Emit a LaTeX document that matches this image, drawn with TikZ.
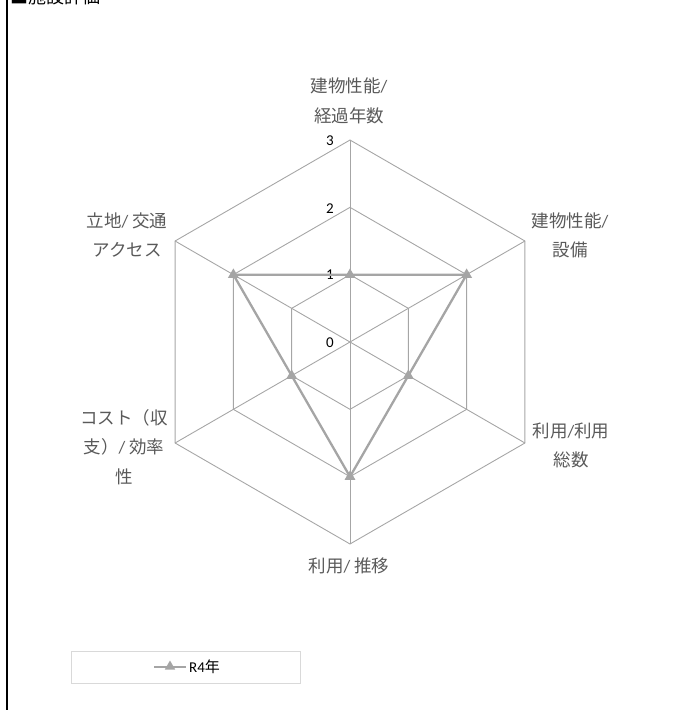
\documentclass[tikz,border=0pt]{standalone}
\usepackage{fontspec}
\setmainfont{Carlito}
\newfontfamily\jp{Noto Sans CJK JP}
\usetikzlibrary{shapes.geometric}
\definecolor{gridc}{HTML}{A6A6A6}
\definecolor{datac}{HTML}{A5A5A5}
\definecolor{labc}{HTML}{595959}
\definecolor{legc}{HTML}{D9D9D9}
\tikzset{
  gridline/.style={draw=gridc, line width=0.9pt},
  dataline/.style={draw=datac, line width=2.3pt, line join=round},
  marker/.style={regular polygon, regular polygon sides=3, fill=datac, draw=none, minimum size=12.5pt, inner sep=0pt},
  axislabel/.style={text=labc, align=center, inner sep=0pt, font=\fontsize{17.5}{29.5}\selectfont},
  ticklabel/.style={text=black, anchor=east, inner sep=0pt, font=\fontsize{15}{17}\selectfont},
  legendbox/.style={draw=legc, line width=1pt},
}
\begin{document}
\begin{tikzpicture}[x=1pt, y=-1pt]
\useasboundingbox (0,0) rectangle (679,710);
% frame line and header
\draw[line width=2.3pt, black] (7.2,0) -- (7.2,710);
\node[anchor=base west, inner sep=0pt, text=black, font=\fontsize{18}{20}\selectfont\jp] (title) at (10,3) {■施設評価};
% radar grid
\begin{scope}[shift={(350,342)}]
\coordinate (O) at (0,0);
\foreach \k in {0,...,5}{
  \foreach \r in {1,2,3}{
    \coordinate (g\r-\k) at ({-90+60*\k}:{67.33*\r});
  }
}
\end{scope}
\foreach \r in {1,2,3}{
  \draw[gridline] (g\r-0) -- (g\r-1) -- (g\r-2) -- (g\r-3) -- (g\r-4) -- (g\r-5) -- cycle;
}
\foreach \k in {0,...,5}{
  \draw[gridline] (O) -- (g3-\k);
}
% tick labels
\node[ticklabel] (t0) at (334,343) {0};
\node[ticklabel] (t1) at (334,275) {1};
\node[ticklabel] (t2) at (334,209) {2};
\node[ticklabel] (t3) at (334,141) {3};
% data series
\draw[dataline] (g1-0) -- (g2-1) -- (g1-2) -- (g2-3) -- (g1-4) -- (g2-5) -- cycle;
\node[marker] (m0) at (g1-0) {};
\node[marker] (m1) at (g2-1) {};
\node[marker] (m2) at (g1-2) {};
\node[marker] (m3) at (g2-3) {};
\node[marker] (m4) at (g1-4) {};
\node[marker] (m5) at (g2-5) {};
% axis labels
\node[axislabel] (a0) at (349,101) {{\jp 建物性能}/\\{\jp 経過年数}};
\node[axislabel] (a1) at (570,235.5) {{\jp 建物性能}/\\{\jp 設備}};
\node[axislabel] (a2) at (571,445.5) {{\jp 利用}/{\jp 利用}\\{\jp 総数}};
\node[axislabel] (a3) at (349,566) {{\jp 利用}/ {\jp 推移}};
\node[axislabel] (a4) at (124,447) {{\jp コスト（収}\\{\jp 支）}/ {\jp 効率}\\{\jp 性}};
\node[axislabel] (a5) at (127,235) {{\jp 立地}/ {\jp 交通}\\{\jp アクセス}};
% legend
\node[legendbox, minimum width=229pt, minimum height=32pt, inner sep=0pt] (leg) at (185.5,667) {};
\coordinate (ls) at (154,667);
\coordinate (le) at (186,667);
\draw[dataline, line width=2pt] (ls) -- (le);
\node[marker, minimum size=12pt] (lm) at (170,666.5) {};
\node[anchor=west, inner sep=0pt, text=black, font=\fontsize{15}{17}\selectfont] (lt) at (189,667) {R4{\jp 年}};
\end{tikzpicture}
\end{document}
